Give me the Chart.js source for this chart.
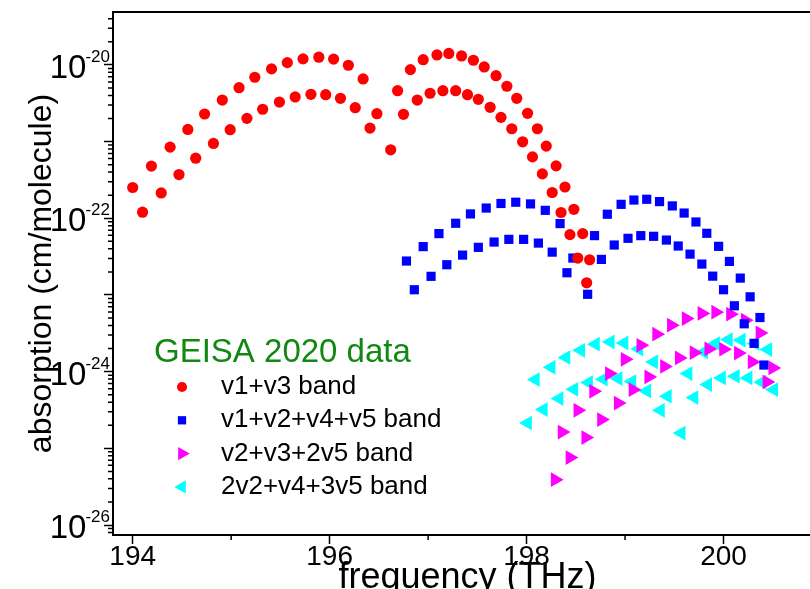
<!DOCTYPE html>
<html>
<head>
<meta charset="utf-8">
<script src="https://cdn.jsdelivr.net/npm/chart.js@4/dist/chart.umd.min.js"></script>
<style>
  html, body { margin: 0; padding: 0; background: #fff; overflow: hidden; width: 810px; height: 589px; }
  canvas { display: block; }
</style>
</head>
<body>
<canvas id="absChart" width="832" height="610"></canvas>
<script>
// --- Datos (frecuencia en THz, absorcion en cm/molecule) ---
const v1v3Freq = [
  194.00, 194.19, 194.38, 194.56, 194.73, 194.91, 195.08, 195.24, 195.41, 195.57, 195.73, 195.89, 196.04, 196.19, 196.34, 196.48,
  194.10, 194.29, 194.47, 194.64, 194.82, 194.99, 195.16, 195.32, 195.49, 195.65, 195.81, 195.96, 196.11, 196.26, 196.41, 196.62,
  196.69, 196.82, 196.95, 197.09, 197.21, 197.34, 197.46, 197.57, 197.69, 197.80, 197.90, 198.01, 198.11, 198.20, 198.30, 198.39, 198.48, 198.57, 198.64,
  196.75, 196.89, 197.02, 197.15, 197.28, 197.40, 197.51, 197.63, 197.74, 197.85, 197.96, 198.06, 198.16, 198.26, 198.35, 198.44, 198.52, 198.61
];
const v1v3Abs = [
  2.52e-22, 4.79e-22, 8.47e-22, 1.44e-21, 2.29e-21, 3.48e-21, 5.05e-21, 6.9e-21, 8.87e-21, 1.07e-20, 1.2e-20, 1.26e-20, 1.19e-20, 9.9e-21, 6.56e-21, 2.31e-21,
  1.2e-22, 2.14e-22, 3.72e-22, 6.08e-22, 9.46e-22, 1.43e-21, 2.01e-21, 2.64e-21, 3.28e-21, 3.82e-21, 4.14e-21, 4.09e-21, 3.67e-21, 2.77e-21, 1.5e-21, 7.82e-22,
  4.61e-21, 8.69e-21, 1.17e-20, 1.35e-20, 1.41e-20, 1.31e-20, 1.15e-20, 9.4e-21, 7.24e-21, 5.27e-21, 3.67e-21, 2.34e-21, 1.47e-21, 8.73e-22, 4.83e-22, 2.56e-22, 1.31e-22, 6.31e-23, 2.88e-23,
  2.27e-21, 3.48e-21, 4.27e-21, 4.61e-21, 4.61e-21, 4.09e-21, 3.56e-21, 2.8e-21, 2.07e-21, 1.47e-21, 9.94e-22, 6.32e-22, 3.79e-22, 2.17e-22, 1.19e-22, 6.12e-23, 3.03e-23, 1.44e-23
];

const v1v2v4v5Freq = [
  196.78, 196.95, 197.11, 197.28, 197.43, 197.59, 197.74, 197.89, 198.04, 198.19, 198.34, 198.47,
  196.86, 197.03, 197.19, 197.35, 197.51, 197.67, 197.82, 197.97, 198.12, 198.26, 198.41, 198.62,
  198.69, 198.82, 198.96, 199.09, 199.22, 199.35, 199.48, 199.60, 199.72, 199.83, 199.95, 200.06, 200.17, 200.27, 200.37,
  198.76, 198.89, 199.03, 199.16, 199.29, 199.42, 199.54, 199.66, 199.78, 199.89, 200.00, 200.11, 200.21, 200.31, 200.41
];
const v1v2v4v5Abs = [
  2.77e-23, 4.27e-23, 6.31e-23, 8.61e-23, 1.14e-22, 1.36e-22, 1.56e-22, 1.62e-22, 1.54e-22, 1.27e-22, 8.53e-23, 3.03e-23,
  1.17e-23, 1.75e-23, 2.48e-23, 3.31e-23, 4.18e-23, 4.9e-23, 5.31e-23, 5.31e-23, 4.75e-23, 3.62e-23, 1.95e-23, 1.02e-23,
  5.94e-23, 1.13e-22, 1.52e-22, 1.73e-22, 1.77e-22, 1.65e-22, 1.45e-22, 1.17e-22, 8.95e-23, 6.37e-23, 4.31e-23, 2.74e-23, 1.66e-23, 9.46e-24, 5.08e-24,
  2.91e-23, 4.48e-23, 5.48e-23, 5.94e-23, 5.82e-23, 5.2e-23, 4.35e-23, 3.41e-23, 2.53e-23, 1.76e-23, 1.17e-23, 7.23e-24, 4.21e-24, 2.34e-24, 1.22e-24
];

const v2v3v5Freq = [
  198.36, 198.52, 198.68, 198.84, 199.00, 199.16, 199.32, 199.47, 199.62, 199.78, 199.92, 200.07, 200.22, 200.37, 200.50,
  198.29, 198.44, 198.60, 198.76, 198.93, 199.08, 199.24, 199.40, 199.55, 199.70, 199.85, 200.00, 200.15, 200.29, 200.44
];
const v2v3v5Abs = [
  1.63e-25, 3.13e-25, 5.55e-25, 9.44e-25, 1.45e-24, 2.21e-24, 3.08e-24, 4.04e-24, 4.93e-24, 5.74e-24, 5.96e-24, 5.61e-24, 4.69e-24, 3.2e-24, 1.12e-24,
  3.9e-26, 7.57e-26, 1.38e-25, 2.37e-25, 3.9e-25, 5.83e-25, 8.53e-25, 1.17e-24, 1.51e-24, 1.77e-24, 1.98e-24, 1.96e-24, 1.75e-24, 1.34e-24, 7.35e-25
];

const v2v4v5Freq = [
  198.09, 198.25, 198.40, 198.55, 198.70, 198.85, 198.99, 199.14, 199.29, 199.43, 199.57,
  198.01, 198.17, 198.33, 198.48, 198.63, 198.78, 198.93, 199.07, 199.22, 199.36,
  199.64, 199.80, 199.92, 200.05, 200.18, 200.32, 200.45,
  199.70, 199.84, 199.98, 200.12, 200.25, 200.39, 200.51
];
const v2v4v5Abs = [
  7.89e-25, 1.14e-24, 1.53e-24, 1.90e-24, 2.28e-24, 2.44e-24, 2.37e-24, 1.97e-24, 1.34e-24, 4.78e-25, 1.58e-25,
  2.14e-25, 3.2e-25, 4.46e-25, 5.89e-25, 7.21e-25, 7.96e-25, 8.13e-25, 7.43e-25, 5.6e-25, 3.13e-25,
  9.44e-25, 1.81e-24, 2.33e-24, 2.62e-24, 2.57e-24, 2.33e-24, 1.94e-24,
  4.59e-25, 6.79e-25, 8.28e-25, 8.71e-25, 8.28e-25, 7.28e-25, 5.83e-25
];

const bandLabels = ['v1+v3 band', 'v1+v2+v4+v5 band', 'v2+v3+2v5 band', '2v2+v4+3v5 band'];
const legendTitle = 'GEISA 2020 data';

// --- Ejes ---
const xMajorTicks = [194, 196, 198, 200];
const xMinorTicks = [195, 197, 199, 201];
const yDecades = [-26, -25, -24, -23, -22, -21, -20];
const yLabelExps = [-20, -22, -24, -26];

const FONT = "'Liberation Sans', Arial, sans-serif";
Chart.defaults.font.family = FONT;
Chart.defaults.color = '#000';

const toPoints = (xs, ys) => xs.map((x, i) => ({ x: x, y: ys[i] }));

function band(label, xs, ys, color, style, radius, rotation) {
  return {
    label: label,
    data: toPoints(xs, ys),
    backgroundColor: color,
    borderColor: color,
    pointStyle: style,
    pointRadius: radius,
    pointHoverRadius: radius,
    pointRotation: rotation,
    pointBorderWidth: 0,
    showLine: false
  };
}

// --- Marco superior, ticks menores y etiquetas 10^n ---
const framePlugin = {
  id: 'framePlugin',
  afterDraw(chart) {
    const { ctx, chartArea: a, scales: { x, y } } = chart;
    ctx.save();
    ctx.strokeStyle = '#000';
    ctx.lineWidth = 2;
    ctx.beginPath();
    ctx.moveTo(a.left - 1, a.top);
    ctx.lineTo(a.right, a.top);
    ctx.stroke();

    ctx.lineWidth = 1.5;
    ctx.beginPath();
    xMinorTicks.forEach(v => {
      const px = x.getPixelForValue(v);
      ctx.moveTo(px, a.bottom);
      ctx.lineTo(px, a.bottom + 5);
    });
    for (let e = -27; e <= -20; e++) {
      for (let m = 2; m <= 9; m++) {
        const v = m * Math.pow(10, e);
        if (v < y.min || v > y.max) continue;
        const py = y.getPixelForValue(v);
        ctx.moveTo(a.left - 5, py);
        ctx.lineTo(a.left, py);
      }
    }
    ctx.stroke();

    ctx.fillStyle = '#000';
    ctx.textBaseline = 'alphabetic';
    yLabelExps.forEach(e => {
      const py = y.getPixelForValue(Math.pow(10, e));
      const sup = String(e);
      ctx.font = '17px ' + FONT;
      const sw = ctx.measureText(sup).width;
      ctx.textAlign = 'left';
      ctx.fillText(sup, a.left - 3 - sw, py - 3);
      ctx.font = '33px ' + FONT;
      ctx.textAlign = 'right';
      ctx.fillText('10', a.left - 3 - sw + 1, py + 13);
    });
    ctx.restore();
  }
};

// --- Leyenda dentro del area ---
const legendPlugin = {
  id: 'legendPlugin',
  afterDraw(chart) {
    const ctx = chart.ctx;
    ctx.save();
    ctx.fillStyle = '#118811';
    ctx.font = '33px ' + FONT;
    ctx.textAlign = 'left';
    ctx.textBaseline = 'alphabetic';
    ctx.fillText(legendTitle, 154, 362);
    ctx.font = '26px ' + FONT;
    ctx.textBaseline = 'middle';
    chart.data.datasets.forEach((ds, i) => {
      const yy = 387 + i * 33.3;
      ctx.fillStyle = ds.backgroundColor;
      Chart.helpers.drawPoint(ctx, {
        pointStyle: ds.pointStyle, radius: ds.pointRadius * 0.9, rotation: ds.pointRotation, borderWidth: 0
      }, 182, yy);
      ctx.fillStyle = '#000';
      ctx.fillText(ds.label, 221, yy);
    });
    ctx.restore();
  }
};

const absChart = new Chart(document.getElementById('absChart').getContext('2d'), {
  type: 'scatter',
  data: {
    datasets: [
      band(bandLabels[0], v1v3Freq, v1v3Abs, '#ff0000', 'circle', 5.6, 0),
      band(bandLabels[1], v1v2v4v5Freq, v1v2v4v5Abs, '#0000ff', 'rect', 6.5, 0),
      band(bandLabels[2], v2v3v5Freq, v2v3v5Abs, '#ff00ff', 'triangle', 8.5, 90),
      band(bandLabels[3], v2v4v5Freq, v2v4v5Abs, '#00ffff', 'triangle', 8.5, -90)
    ]
  },
  options: {
    responsive: false,
    animation: false,
    devicePixelRatio: 1,
    layout: { padding: { left: 0, top: 12, right: 10, bottom: 10 } },
    plugins: { legend: { display: false }, tooltip: { enabled: false } },
    scales: {
      x: {
        type: 'linear',
        min: 193.8,
        max: 201,
        afterBuildTicks: s => { s.ticks = xMajorTicks.map(v => ({ value: v })); },
        afterFit: s => { s.height = 65; },
        ticks: { font: { size: 28 }, color: '#000', padding: -4, maxRotation: 0, autoSkip: false },
        grid: { drawOnChartArea: false, drawTicks: true, tickLength: 9, tickColor: '#000', tickWidth: 1.5 },
        border: { display: true, color: '#000', width: 2 },
        title: { display: true, text: 'frequency (THz)', font: { size: 36 }, color: '#000', padding: { top: 0, bottom: 0 } }
      },
      y: {
        type: 'logarithmic',
        min: Math.pow(10, -26.13),
        max: Math.pow(10, -19.31),
        afterBuildTicks: s => { s.ticks = yDecades.map(e => ({ value: Math.pow(10, e) })); },
        afterFit: s => { s.width = 113; },
        ticks: { display: false },
        grid: { drawOnChartArea: false, drawTicks: true, tickLength: 9, tickColor: '#000', tickWidth: 1.5 },
        border: { display: true, color: '#000', width: 2 },
        title: { display: true, text: 'absorption (cm/molecule)', font: { size: 32 }, color: '#000', padding: { top: 23, bottom: 0 } }
      }
    }
  },
  plugins: [framePlugin, legendPlugin]
});
</script>
</body>
</html>
